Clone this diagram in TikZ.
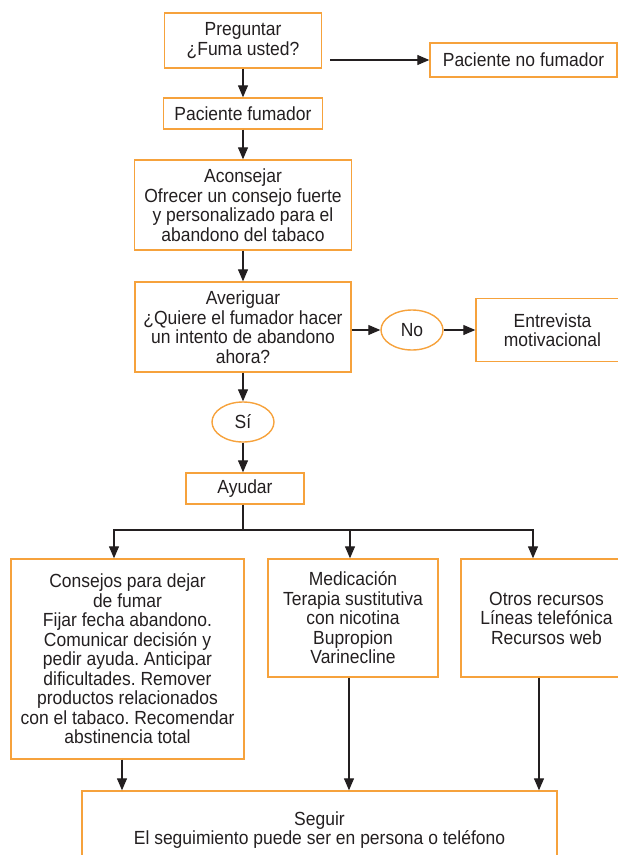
\documentclass[tikz,border=0pt]{standalone}
\usepackage{fontspec}
\setmainfont{Liberation Sans}[FakeStretch=0.92]
\usetikzlibrary{arrows.meta,shapes.geometric,calc}
\definecolor{naranja}{HTML}{F6A23C}
\definecolor{tinta}{HTML}{231F20}
\frenchspacing

\begin{document}
\begin{tikzpicture}[x=1pt, y=-1pt,
    every node/.style={font=\fontsize{19}{19.5}\selectfont, text=tinta, align=center},
    caja/.style={draw=naranja, line width=1.4pt, inner sep=0pt},
    ovalo/.style={ellipse, draw=naranja, line width=1.4pt, inner sep=0pt, minimum width=62, minimum height=40},
    linea/.style={draw=tinta, line width=1.2pt},
    flecha/.style={linea, -{Triangle[length=12pt,width=10pt]}}]

    \useasboundingbox (0,0) rectangle (618,855);
    \clip (0,0) rectangle (618,855);

    % --- Columna central ---
    \node[caja, minimum width=157, minimum height=55] (preg) at (243,40.5) {Preguntar\\¿Fuma usted?};
    \node[caja, minimum width=187, minimum height=34] (nofum) at (523.5,60) {Paciente no fumador};
    \node[caja, minimum width=159, minimum height=31] (fum) at (243,113.5) {Paciente fumador};
    \node[caja, minimum width=217, minimum height=90] (acon) at (243,205)
    {Aconsejar\\Ofrecer un consejo fuerte\\y personalizado para el\\abandono del tabaco};
    \node[caja, minimum width=216, minimum height=90] (aver) at (243,327)
    {Averiguar\\¿Quiere el fumador hacer\\un intento de abandono\\ahora?};
    \node[ovalo] (no) at (412,330) {No};
    \node[caja, minimum width=153, minimum height=63] (entr) at (552.5,330) {Entrevista\\motivacional};
    \node[ovalo] (si) at (243,422) {Sí};
    \node[caja, minimum width=118, minimum height=31] (ayud) at (245,488.5) {Ayudar};

    % --- Recursos ---
    \node[caja, minimum width=233, minimum height=200] (cons) at (127.5,659)
    {Consejos para dejar\\de fumar\\Fijar fecha abandono.\\Comunicar decisión y\\pedir ayuda. Anticipar\\dificultades. Remover\\productos relacionados\\con el tabaco. Recomendar\\abstinencia total};
    \node[caja, minimum width=170, minimum height=118] (med) at (353,618)
    {Medicación\\Terapia sustitutiva\\con nicotina\\Bupropion\\Varinecline};
    \node[caja, minimum width=171, minimum height=118] (otros) at (546.5,618)
    {Otros recursos\\Líneas telefónica\\Recursos web};

    % --- Seguimiento ---
    \node[caja, minimum width=475, minimum height=78] (seg) at (319.5,830)
    {Seguir\\El seguimiento puede ser en persona o teléfono};

    % Flechas
    \coordinate (salida) at ($(preg.east |- nofum.west)+(8,0)$);
    \draw[flecha] (salida) -- (nofum.west);
    \draw[flecha] (preg) -- (fum);
    \draw[flecha] (fum) -- (acon);
    \draw[flecha] (acon) -- (aver);
    \draw[flecha] (aver.east |- no) -- (no);
    \draw[flecha] (no) -- (entr);
    \draw[flecha] (aver) -- (si);
    \draw[flecha] (si.south) -- (si.south |- ayud.north);

    % reparto hacia los recursos
    \coordinate (rama) at (243,530);
    \draw[linea] (ayud.south -| rama) -- (rama);
    \draw[flecha] (rama) -| ([xshift=-13.5]cons.north);
    \draw[flecha] (rama) -| ([xshift=-3]med.north);
    \draw[flecha] (rama) -| ([xshift=-13.5]otros.north);

    \coordinate (bajacons) at ([xshift=-5.5]cons.south);
    \coordinate (bajamed) at ([xshift=-4]med.south);
    \coordinate (bajaotros) at ([xshift=-7.5]otros.south);
    \draw[flecha] (bajacons) -- (bajacons |- seg.north);
    \draw[flecha] (bajamed) -- (bajamed |- seg.north);
    \draw[flecha] (bajaotros) -- (bajaotros |- seg.north);

\end{tikzpicture}
\end{document}
